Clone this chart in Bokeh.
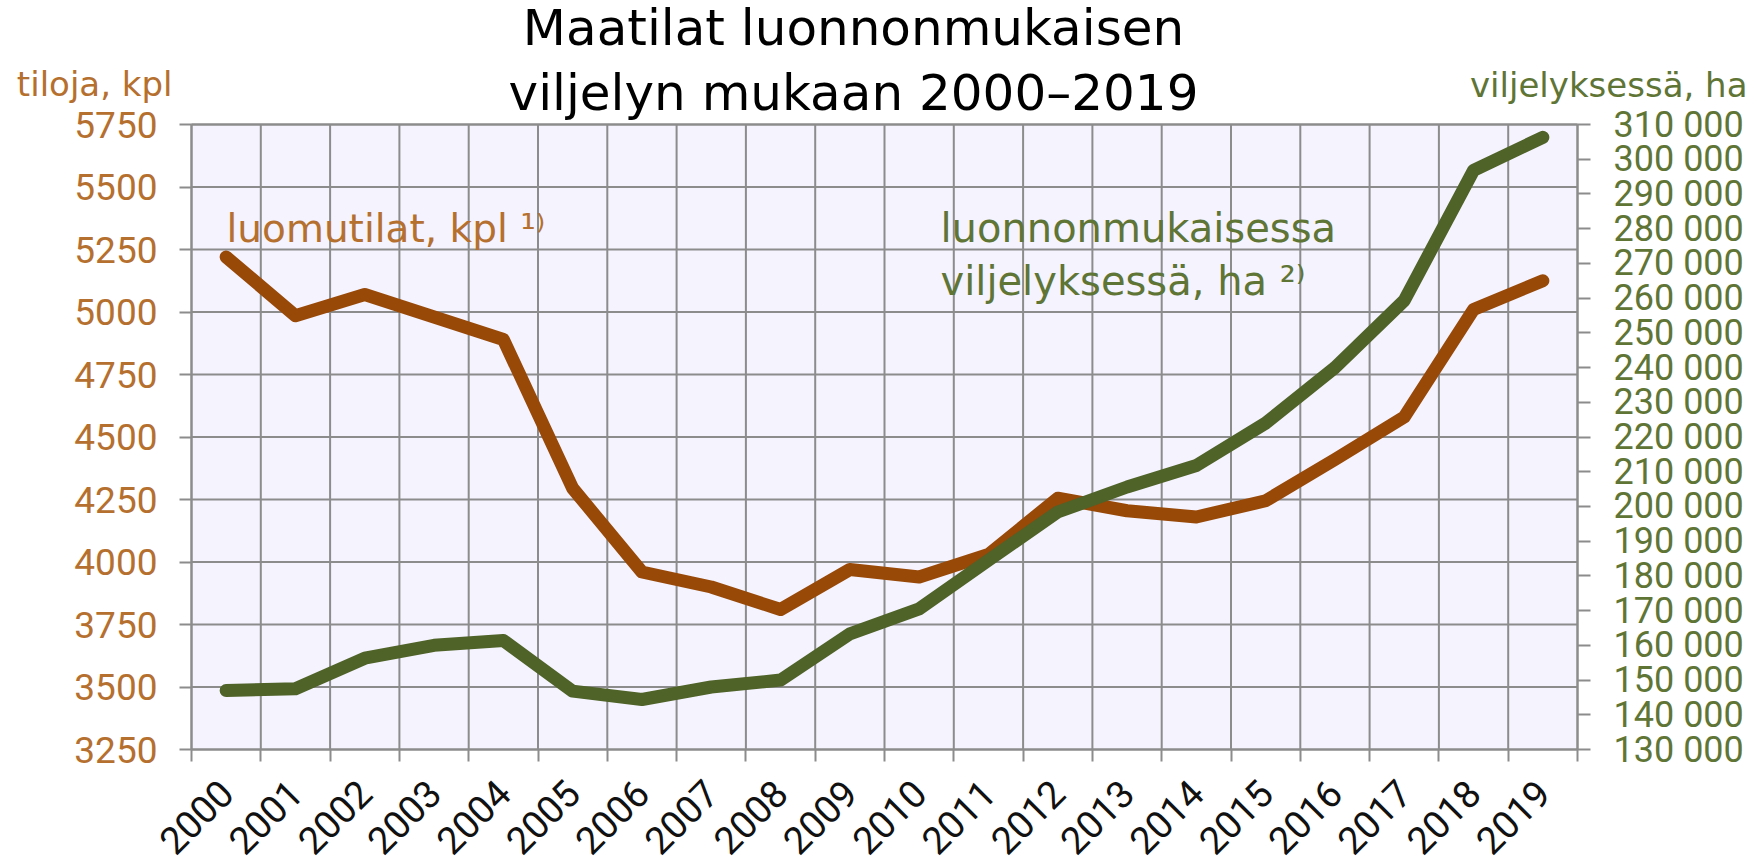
import numpy as np
from bokeh.plotting import figure
from bokeh.models import Range1d, LinearAxis, FixedTicker, Label
from bokeh.embed import file_html
from bokeh.resources import INLINE

# ---- data ----
years = ["2000", "2001", "2002", "2003", "2004", "2005", "2006", "2007", "2008", "2009",
         "2010", "2011", "2012", "2013", "2014", "2015", "2016", "2017", "2018", "2019"]
farms = [5220, 4985, 5070, 4980, 4890, 4295, 3960, 3900, 3810, 3970,
         3940, 4030, 4255, 4205, 4180, 4245, 4410, 4580, 5010, 5125]
hectares = [147000, 147500, 156300, 160000, 161400, 146800, 144400, 148000, 150000, 163300,
            170500, 184500, 198400, 205600, 211800, 224000, 240000, 259300, 296800, 306300]
left_ticks = [3250, 3500, 3750, 4000, 4250, 4500, 4750, 5000, 5250, 5500, 5750]
left_tick_labels = ["3250", "3500", "3750", "4000", "4250", "4500", "4750", "5000", "5250", "5500", "5750"]
right_ticks = [130000, 140000, 150000, 160000, 170000, 180000, 190000, 200000, 210000, 220000,
               230000, 240000, 250000, 260000, 270000, 280000, 290000, 300000, 310000]
right_tick_labels = ["130 000", "140 000", "150 000", "160 000", "170 000", "180 000", "190 000",
                     "200 000", "210 000", "220 000", "230 000", "240 000", "250 000", "260 000",
                     "270 000", "280 000", "290 000", "300 000", "310 000"]

title_lines = ["Maatilat luonnonmukaisen", "viljelyn mukaan 2000–2019"]
left_title = "tiloja, kpl"
right_title = "viljelyksessä, ha"
farms_label = "luomutilat, kpl ¹⁾"
ha_label = ["luonnonmukaisessa", "viljelyksessä, ha ²⁾"]

# ---- styles / layout ----
BROWN = "#984807"
GREEN = "#4F6228"
BROWN_TXT = "#B5702F"
GREEN_TXT = "#5F7536"
GRID = "#8C8C8C"
PLOT_BG = "#F4F3FE"
TXT_FONT = "DejaVu Sans"
NUM_FONT = "Roboto"

W, H = 1755, 863                      # canvas
FL, FR, FT, FB = 191, 1577, 124, 749  # plot-area box in canvas pixels

n = len(years)
centers = [i + 0.5 for i in range(n)]
bounds = list(range(n + 1))

lo, hi = left_ticks[0], left_ticks[-1]
rlo, rhi = right_ticks[0], right_ticks[-1]

# ranges chosen so the whole canvas is the frame and the plot box sits at FL..FR / FT..FB
ppx = (FR - FL) / n
x_range = Range1d(-FL / ppx, n + (W - FR) / ppx)
ppy = (hi - lo) / (FB - FT)
y_range = Range1d(lo - (H - FB) * ppy, hi + FT * ppy)
rppy = (rhi - rlo) / (FB - FT)
r_range = Range1d(rlo - (H - FB) * rppy, rhi + FT * rppy)

p = figure(width=W, height=H, x_range=x_range, y_range=y_range,
           output_backend="svg", toolbar_location=None,
           min_border_left=0, min_border_right=0, min_border_top=0, min_border_bottom=0,
           background_fill_color="white", border_fill_color="white")
p.extra_y_ranges = {"ha": r_range}
p.outline_line_color = None
p.grid.visible = False

# plot area background
p.quad(left=[bounds[0]], right=[bounds[-1]], bottom=[lo], top=[hi],
       fill_color=PLOT_BG, line_color=None)
# grid lines
p.segment(x0=bounds[0], x1=bounds[-1], y0=left_ticks, y1=left_ticks,
          line_color=GRID, line_width=2)
p.segment(x0=bounds, x1=bounds, y0=lo, y1=hi, line_color=GRID, line_width=2)

# x axis
xa = p.xaxis[0]
xa.fixed_location = lo
xa.bounds = (bounds[0], bounds[-1])
xa.ticker = FixedTicker(ticks=centers, minor_ticks=bounds)
xa.major_label_overrides = {c: y for c, y in zip(centers, years)}
xa.major_label_orientation = np.pi / 4
xa.major_tick_out = 0
xa.major_tick_in = 0
xa.minor_tick_out = 12
xa.minor_tick_in = 0
xa.minor_tick_line_color = GRID
xa.minor_tick_line_width = 2
xa.axis_line_color = GRID
xa.axis_line_width = 2
xa.major_label_standoff = 25
xa.major_label_text_font = NUM_FONT
xa.major_label_text_font_size = "38px"
xa.major_label_text_color = "#111111"

# left axis
ya = p.yaxis[0]
ya.fixed_location = bounds[0]
ya.bounds = (lo, hi)
ya.ticker = FixedTicker(ticks=left_ticks)
ya.major_label_overrides = {t: s for t, s in zip(left_ticks, left_tick_labels)}
ya.major_tick_out = 12
ya.major_tick_in = 0
ya.minor_tick_out = 0
ya.major_tick_line_color = GRID
ya.major_tick_line_width = 2
ya.axis_line_color = GRID
ya.axis_line_width = 2
ya.major_label_standoff = 22
ya.major_label_text_font = NUM_FONT
ya.major_label_text_font_size = "37px"
ya.major_label_text_color = BROWN_TXT

# right axis
ra = LinearAxis(y_range_name="ha", ticker=FixedTicker(ticks=right_ticks),
                fixed_location=bounds[-1], bounds=(rlo, rhi))
ra.major_label_overrides = {t: s for t, s in zip(right_ticks, right_tick_labels)}
ra.major_tick_out = 13
ra.major_tick_in = 0
ra.minor_tick_out = 0
ra.major_tick_line_color = GRID
ra.major_tick_line_width = 2
ra.axis_line_color = GRID
ra.axis_line_width = 2
ra.major_label_standoff = 23
ra.major_label_text_font = NUM_FONT
ra.major_label_text_font_size = "36px"
ra.major_label_text_color = GREEN_TXT
p.add_layout(ra, "right")

# top border of plot box
p.segment(x0=[bounds[0]], x1=[bounds[-1]], y0=[hi], y1=[hi], line_color=GRID, line_width=2)

# lines
p.line(centers, farms, line_color=BROWN, line_width=13, line_cap="round", line_join="round")
p.line(centers, hectares, y_range_name="ha", line_color=GREEN, line_width=13,
       line_cap="round", line_join="round")

def lab(x, y, text, size, color, align="left", font=TXT_FONT):
    p.add_layout(Label(x=x, y=H - y, x_units="screen", y_units="screen", text=text,
                       text_font=font, text_font_size=size, text_color=color,
                       text_align=align, text_baseline="alphabetic"))

# title (vertical positions given from top of canvas)
lab(853, 27, title_lines[0], "50px", "#000000", "center")
lab(853, 92, title_lines[1], "50px", "#000000", "center")
# axis titles
lab(172, 83, left_title, "34px", BROWN_TXT, "right")
lab(1747, 84, right_title, "34px", GREEN_TXT, "right")
# series annotations
lab(226, 228, farms_label, "39px", BROWN_TXT)
lab(940, 227, ha_label[0], "40px", GREEN_TXT)
lab(940, 280, ha_label[1], "40px", GREEN_TXT)

open("out.html", "w").write(file_html(p, INLINE))
